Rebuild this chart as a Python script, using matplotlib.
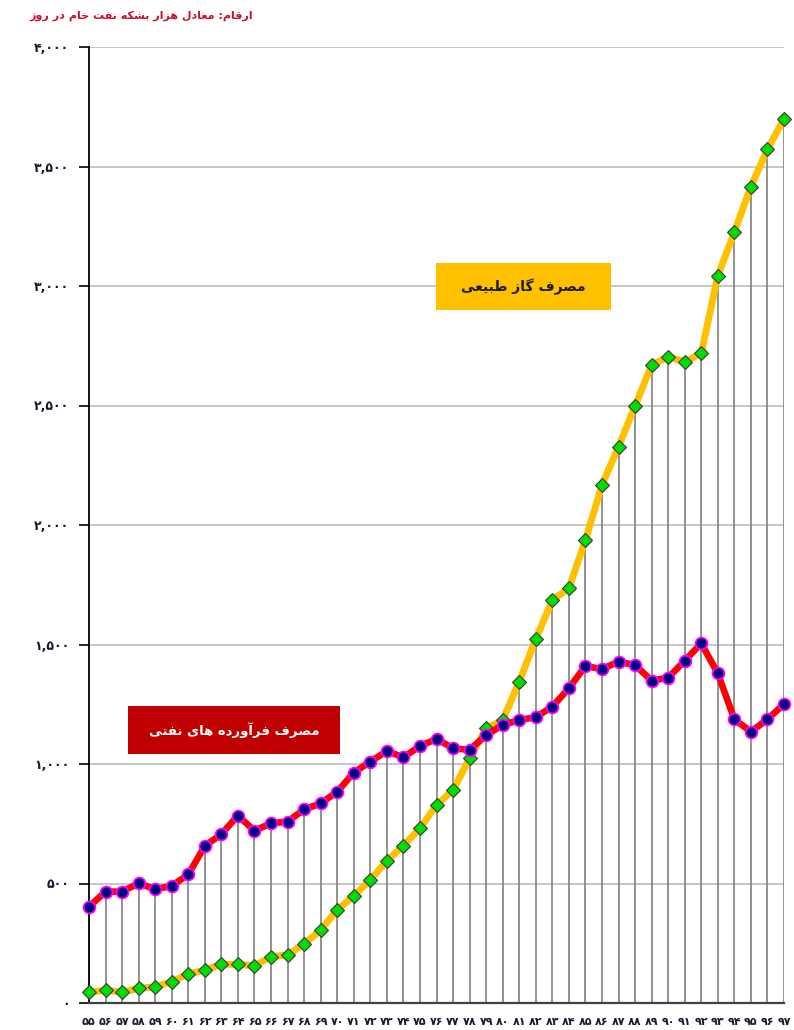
import numpy as np
import matplotlib
matplotlib.use("Agg")
import matplotlib.pyplot as plt
from matplotlib.patches import Rectangle

# data (years of the Iranian calendar, thousand barrels of oil equivalent per day)
years = list(range(55, 98))
oil_products = [403, 466, 466, 501, 476, 490, 538, 657, 707, 784,
                721, 752, 759, 810, 835, 884, 964, 1010, 1054, 1028,
                1075, 1105, 1066, 1059, 1121, 1163, 1184, 1196, 1240, 1317,
                1410, 1397, 1428, 1414, 1349, 1361, 1432, 1505, 1379, 1187,
                1135, 1187, 1251]
natural_gas = [45, 54, 45, 61, 68, 89, 121, 138, 162, 162,
               155, 194, 201, 247, 305, 390, 448, 515, 595, 658,
               731, 828, 891, 1024, 1149, 1184, 1344, 1523, 1686, 1735,
               1937, 2167, 2328, 2498, 2669, 2704, 2683, 2718, 3043, 3225,
               3416, 3572, 3699]
yticks = [0, 500, 1000, 1500, 2000, 2500, 3000, 3500, 4000]
ytick_labels = ['۰', '۵۰۰', '۱,۰۰۰', '۱,۵۰۰', '۲,۰۰۰', '۲,۵۰۰', '۳,۰۰۰', '۳,۵۰۰', '۴,۰۰۰']

title = 'ارقام: معادل هزار بشکه نفت خام در روز'
gas_label = 'مصرف گاز طبیعی'
oil_label = 'مصرف فرآورده های نفتی'

# matplotlib does no arabic shaping, so do it by hand with presentation forms
DUAL = {'ب': 0xFE8F, 'پ': 0xFB56, 'ت': 0xFE95, 'خ': 0xFEA5, 'س': 0xFEB1,
        'ش': 0xFEB5, 'ص': 0xFEB9, 'ط': 0xFEC1, 'ع': 0xFEC9, 'ف': 0xFED1,
        'ق': 0xFED5, 'ک': 0xFB8E, 'گ': 0xFB92, 'ل': 0xFEDD, 'م': 0xFEE1,
        'ن': 0xFEE5, 'ه': 0xFEE9, 'ی': 0xFBFC}
RIGHT = {'ا': 0xFE8D, 'آ': 0xFE81, 'د': 0xFEA9, 'ر': 0xFEAD, 'ز': 0xFEAF,
         'و': 0xFEED}


def shape(text):
    out = []
    n = len(text)
    for i, c in enumerate(text):
        if c not in DUAL and c not in RIGHT:
            out.append(c)
            continue
        prev = text[i - 1] if i > 0 else ''
        nxt = text[i + 1] if i + 1 < n else ''
        jp = prev in DUAL
        if c in RIGHT:
            out.append(chr(RIGHT[c] + (1 if jp else 0)))
        else:
            jn = nxt in DUAL or nxt in RIGHT
            if jp and jn:
                k = 3
            elif jn:
                k = 2
            elif jp:
                k = 1
            else:
                k = 0
            out.append(chr(DUAL[c] + k))
    return ''.join(out[::-1])


fa_digits = str.maketrans('0123456789', '۰۱۲۳۴۵۶۷۸۹')
xlabels = [str(y).translate(fa_digits) for y in years]

plt.rcParams['font.family'] = ['DejaVu Sans']

fig = plt.figure(figsize=(7.94, 10.30), dpi=100)
ax = fig.add_axes([89 / 794, 1 - 1003 / 1030, 695 / 794, 956 / 1030])

ax.set_xlim(55, 97)
ax.set_ylim(0, 4000)

for v in yticks[1:]:
    ax.axhline(v, color='#bdbdbd', lw=1.2, zorder=1)

tops = np.maximum(oil_products, natural_gas)
ax.vlines(years, 0, tops, color='#808080', lw=1.2, zorder=2)

ax.plot(years, natural_gas, color='#FFC000', lw=5, zorder=3,
        marker='D', ms=7, mfc='#00DD00', mec='#3a3a3a', mew=0.8, clip_on=False)
ax.plot(years, oil_products, color='#FF0000', lw=4.8, zorder=4,
        marker='o', ms=8.5, mfc='#000080', mec='#FF00FF', mew=1.3, clip_on=False)

for s in ['top', 'right']:
    ax.spines[s].set_visible(False)
ax.spines['left'].set_color('black')
ax.spines['left'].set_linewidth(1.3)
ax.spines['bottom'].set_color('#404040')
ax.spines['bottom'].set_linewidth(1.6)

ax.set_yticks(yticks)
ax.set_yticklabels(ytick_labels, fontsize=9, fontweight='bold', color='#1a1a2e')
ax.tick_params(axis='y', length=7, width=1.2, color='black', pad=7)
ax.set_xticks(years)
ax.set_xticklabels(xlabels, fontsize=8, fontweight='bold', color='#1a1a2e')
ax.tick_params(axis='x', length=0, pad=10)

fig.text(253 / 794, 1 - 16 / 1030, shape(title), ha='right', va='center',
         fontsize=8, fontweight='bold', color='#C8102E')

# label boxes
fig.patches.append(Rectangle((436 / 794, 1 - 310 / 1030), 175 / 794, 47 / 1030,
                             transform=fig.transFigure, facecolor='#FFC000',
                             edgecolor='none', zorder=5))
fig.text(523 / 794, 1 - 287 / 1030, shape(gas_label), ha='center', va='center',
         fontsize=10, fontweight='bold', color='#1a1a1a', zorder=6)
fig.patches.append(Rectangle((128 / 794, 1 - 754 / 1030), 212 / 794, 48 / 1030,
                             transform=fig.transFigure, facecolor='#C00000',
                             edgecolor='none', zorder=5))
fig.text(234 / 794, 1 - 730 / 1030, shape(oil_label), ha='center', va='center',
         fontsize=9.5, fontweight='bold', color='white', zorder=6)

fig.savefig('out.png', dpi=100)
